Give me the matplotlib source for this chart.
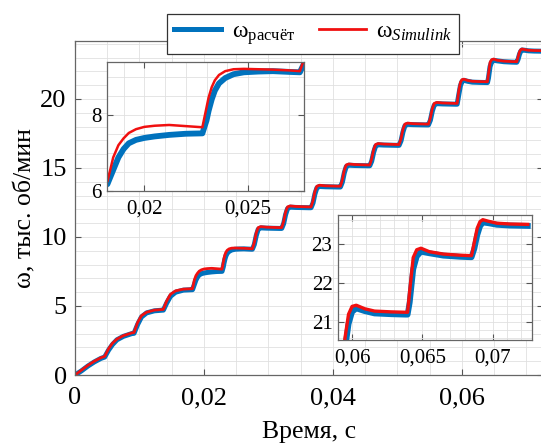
import matplotlib
matplotlib.use('Agg')
import matplotlib.pyplot as plt
from matplotlib.ticker import MultipleLocator

plt.rcParams['font.family'] = ['Liberation Serif', 'DejaVu Serif']
plt.rcParams['mathtext.fontset'] = 'custom'
plt.rcParams['mathtext.rm'] = 'Liberation Serif'
plt.rcParams['mathtext.it'] = 'Liberation Serif:italic'

# время, с
t = [0.0, 0.001, 0.002, 0.003, 0.004, 0.0046,
     0.0052, 0.0058, 0.0065, 0.0075, 0.0088,
     0.00915, 0.0097, 0.0103, 0.0111, 0.0123, 0.0136,
     0.0137, 0.0142, 0.0148, 0.0156, 0.0168, 0.0181,
     0.01822, 0.0185, 0.01875, 0.0190, 0.01925, 0.0196, 0.0200, 0.0205, 0.0212, 0.0220,
     0.0228, 0.0230, 0.0231, 0.02325, 0.0234, 0.0236, 0.0239, 0.0243, 0.0248, 0.0255, 0.0262, 0.0270,
     0.0275, 0.0278, 0.0281, 0.0284, 0.0288, 0.0297, 0.0317,
     0.03205, 0.03235, 0.03265, 0.03295, 0.03335, 0.03425, 0.03625,
     0.0366, 0.0369, 0.0372, 0.0375, 0.0379, 0.0388, 0.0408,
     0.04115, 0.04145, 0.04175, 0.04205, 0.04245, 0.04335, 0.04535,
     0.0457, 0.0460, 0.0463, 0.0466, 0.0470, 0.0479, 0.0499,
     0.05025, 0.05055, 0.05085, 0.05115, 0.05155, 0.05245, 0.05445,
     0.0548, 0.0551, 0.0554, 0.0557, 0.0561, 0.0570, 0.0590,
     0.05925, 0.0595, 0.05975, 0.0600, 0.0603, 0.0609, 0.0616, 0.0628, 0.0638,
     0.06395, 0.0641, 0.06435, 0.0646, 0.0649, 0.0655, 0.0665, 0.0677, 0.0684,
     0.0685, 0.0687, 0.0689, 0.0691, 0.0693, 0.0697, 0.0703, 0.0712, 0.0725]

# скорость, тыс. об/мин: расчёт
w_calc = [0.0, 0.3, 0.65, 0.95, 1.2, 1.3,
          1.8, 2.2, 2.55, 2.8, 3.0,
          3.02, 3.65, 4.2, 4.5, 4.65, 4.7,
          4.7, 5.2, 5.7, 6.0, 6.15, 6.18,
          6.18, 6.55, 6.88, 7.1, 7.25, 7.34, 7.39, 7.43, 7.47, 7.5,
          7.51, 7.85, 8.1, 8.4, 8.63, 8.82, 8.96, 9.06, 9.11, 9.13, 9.14, 9.12,
          9.11, 9.45, 10.1, 10.55, 10.66, 10.64, 10.62,
          10.62, 10.96, 11.62, 12.05, 12.16, 12.14, 12.12,
          12.12, 12.46, 13.12, 13.55, 13.66, 13.64, 13.62,
          13.62, 13.97, 14.64, 15.09, 15.2, 15.18, 15.16,
          15.16, 15.49, 16.13, 16.57, 16.68, 16.66, 16.64,
          16.64, 16.97, 17.61, 18.05, 18.16, 18.14, 18.12,
          18.12, 18.46, 19.12, 19.55, 19.66, 19.64, 19.62,
          19.62, 20.3, 20.95, 21.26, 21.35, 21.28, 21.22, 21.2, 21.19,
          21.19, 21.5, 22.35, 22.68, 22.8, 22.76, 22.7, 22.67, 22.66,
          22.66, 22.88, 23.22, 23.45, 23.55, 23.53, 23.49, 23.47, 23.46]

# скорость, тыс. об/мин: Simulink
w_sim = [0.0, 0.35, 0.7, 1.0, 1.25, 1.35,
         1.9, 2.3, 2.6, 2.85, 3.05,
         3.08, 3.8, 4.3, 4.55, 4.7, 4.75,
         4.75, 5.35, 5.85, 6.1, 6.22, 6.25,
         6.25, 6.88, 7.2, 7.38, 7.52, 7.62, 7.68, 7.71, 7.73, 7.7,
         7.67, 8.19, 8.45, 8.72, 8.9, 9.04, 9.14, 9.19, 9.2, 9.19, 9.18, 9.16,
         9.14, 9.6, 10.3, 10.68, 10.75, 10.71, 10.68,
         10.68, 11.13, 11.81, 12.18, 12.25, 12.21, 12.18,
         12.18, 12.63, 13.31, 13.68, 13.75, 13.71, 13.68,
         13.68, 14.14, 14.84, 15.22, 15.29, 15.25, 15.22,
         15.22, 15.66, 16.33, 16.7, 16.77, 16.73, 16.7,
         16.7, 17.14, 17.81, 18.18, 18.25, 18.21, 18.18,
         18.18, 18.63, 19.31, 19.68, 19.75, 19.71, 19.68,
         19.68, 20.6, 21.2, 21.4, 21.43, 21.34, 21.28, 21.26, 21.25,
         21.25, 21.8, 22.65, 22.85, 22.89, 22.8, 22.74, 22.71, 22.7,
         22.7, 23.05, 23.4, 23.57, 23.62, 23.58, 23.53, 23.51, 23.5]

labels = ['ω$_{\\mathrm{расчёт}}$', 'ω$_{Simulink}$']

main_xticks = [0, 0.02, 0.04, 0.06]
main_xlabels = ['0', '0,02', '0,04', '0,06']
main_yticks = [0, 5, 10, 15, 20]

in1_xticks = [0.02, 0.025]
in1_xlabels = ['0,02', '0,025']
in1_yticks = [6, 8]

in2_xticks = [0.06, 0.065, 0.07]
in2_xlabels = ['0,06', '0,065', '0,07']
in2_yticks = [21, 22, 23]

BLUE = '#0072BD'
RED = '#F01010'
W, H = 541, 445


def setup(ax, xminor, yminor, size):
    ax.xaxis.set_minor_locator(MultipleLocator(xminor))
    ax.yaxis.set_minor_locator(MultipleLocator(yminor))
    ax.grid(which='both', color='#e0e0e0', lw=0.6)
    ax.set_axisbelow(True)
    ax.tick_params(which='major', direction='in', length=4, width=0.8,
                   colors='#555555', labelcolor='black', labelsize=size,
                   top=True, right=True)
    ax.tick_params(which='minor', length=0)
    for s in ax.spines.values():
        s.set_color('#666666')
        s.set_linewidth(0.9)


fig = plt.figure(figsize=(W / 100, H / 100), dpi=100)

ax = fig.add_axes([75 / W, 70 / H, 468 / W, 334 / H])
l1, = ax.plot(t, w_calc, color=BLUE, lw=3.6)
l2, = ax.plot(t, w_sim, color=RED, lw=2.0)
ax.set_xlim(0, 0.07256)
ax.set_ylim(0, 24.2)
ax.set_xticks(main_xticks, main_xlabels)
ax.set_yticks(main_yticks)
setup(ax, 0.005, 1, 19)
ax.tick_params(axis='x', pad=9)
ax.tick_params(axis='y', pad=6)
ax.set_xlabel('Время, с', fontsize=18.5, labelpad=8)
ax.set_ylabel('ω, тыс. об/мин', fontsize=18.5, labelpad=3)

# увеличенный фрагмент 1
ax1 = fig.add_axes([107 / W, (H - 191) / H, 197 / W, 129 / H])
ax1.plot(t, w_calc, color=BLUE, lw=4.2)
ax1.plot(t, w_sim, color=RED, lw=1.8)
ax1.set_xlim(0.0182, 0.0277)
ax1.set_ylim(6, 9.38)
ax1.set_xticks(in1_xticks, in1_xlabels)
ax1.set_yticks(in1_yticks)
setup(ax1, 0.001, 0.5, 15)
ax1.tick_params(axis='x', pad=6)
ax1.tick_params(axis='y', pad=4)

# увеличенный фрагмент 2
ax2 = fig.add_axes([338 / W, (H - 340) / H, 194 / W, 125 / H])
ax2.plot(t, w_calc, color=BLUE, lw=4.2)
ax2.plot(t, w_sim, color=RED, lw=2.4)
ax2.set_xlim(0.059, 0.0728)
ax2.set_ylim(20.54, 23.74)
ax2.set_xticks(in2_xticks, in2_xlabels)
ax2.set_yticks(in2_yticks)
setup(ax2, 0.001, 0.2, 15)
ax2.tick_params(axis='x', pad=6)
ax2.tick_params(axis='y', pad=4)

leg = fig.legend([l1, l2], labels, loc='center',
                 bbox_to_anchor=(313 / W, (H - 34) / H), ncol=2, fontsize=17,
                 fancybox=False, framealpha=1, edgecolor='#333333',
                 borderpad=0.3, handlelength=2.0, handletextpad=0.45,
                 columnspacing=1.0)
leg.get_frame().set_linewidth(0.9)

fig.savefig('out.png', dpi=100)
